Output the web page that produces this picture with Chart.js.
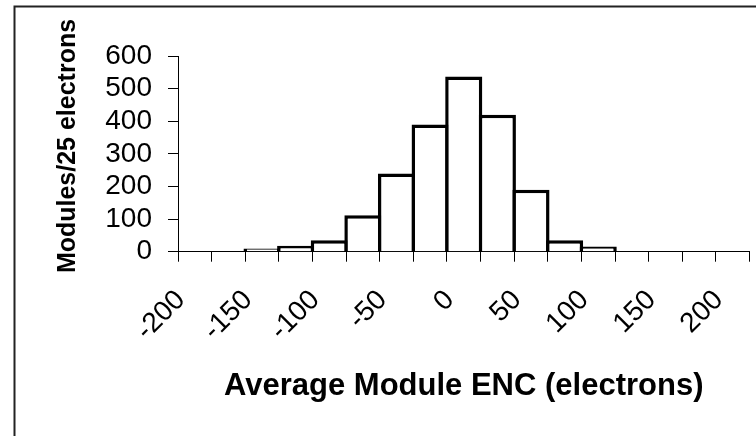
<!DOCTYPE html>
<html lang="en">
<head>
<meta charset="UTF-8">
<title>Average Module ENC</title>
<script src="https://cdn.jsdelivr.net/npm/chart.js"></script>
<style>
  html, body { margin: 0; padding: 0; background: #fff; }
  #wrap { width: 756px; height: 436px; position: relative; }
</style>
</head>
<body>
<div id="wrap"><canvas id="encChart"></canvas></div>
<script>
  // bins are 25 electrons wide, named by their lower edge
  const binEdges = [-200, -175, -150, -125, -100, -75, -50, -25, 0, 25, 50, 75, 100, 125, 150, 175, 200];
  const moduleCounts = [0, 0, 10, 18, 35, 112, 240, 390, 537, 420, 190, 35, 16, 0, 0, 0, 0];
  // only every other bin gets a label
  const xTickLabels = ['-200', '', '-150', '', '-100', '', '-50', '', '0', '', '50', '', '100', '', '150', '', '200'];
  const yMax = 600;
  const yStep = 100;
  const yTitle = 'Modules/25 electrons';

  const FONT = "'Liberation Sans', Arial, sans-serif";
  const OUTLINE = 3.5;

  // white background, the frame round the whole chart and the y title
  const framePlugin = {
    id: 'frame',
    beforeDraw(chart) {
      const ctx = chart.ctx;
      ctx.save();
      ctx.fillStyle = '#fff';
      ctx.fillRect(0, 0, chart.width, chart.height);
      ctx.strokeStyle = '#222';
      ctx.lineWidth = 2;
      ctx.strokeRect(14.5, 6.5, chart.width + 20, chart.height + 20);
      ctx.restore();
    },
    afterDraw(chart) {
      const ctx = chart.ctx;
      ctx.save();
      ctx.translate(68, 146);
      ctx.rotate(-Math.PI / 2);
      ctx.font = 'bold 25px ' + FONT;
      ctx.fillStyle = '#000';
      ctx.textAlign = 'center';
      ctx.textBaseline = 'middle';
      ctx.fillText(yTitle, 0, 0);
      ctx.restore();
    }
  };

  const ctx = document.getElementById('encChart').getContext('2d');
  new Chart(ctx, {
    type: 'bar',
    data: {
      labels: binEdges,
      datasets: [{
        data: moduleCounts,
        backgroundColor: '#fff',
        borderColor: '#000',
        borderWidth: OUTLINE,
        borderSkipped: 'start',
        // slightly wider than the bin so neighbouring outlines share one line
        barPercentage: 1 + OUTLINE / 33.6,
        categoryPercentage: 1
      }]
    },
    options: {
      responsive: true,
      maintainAspectRatio: false,
      animation: false,
      layout: { padding: { top: 56, right: 6.5, left: 0, bottom: 0 } },
      plugins: {
        legend: { display: false },
        tooltip: { enabled: false }
      },
      scales: {
        x: {
          grid: { display: true, drawOnChartArea: false, drawTicks: true, tickLength: 10, color: '#000', offset: true },
          border: { display: true, color: '#000', width: 1 },
          ticks: {
            autoSkip: false,
            minRotation: 45,
            maxRotation: 45,
            labelOffset: -14,
            padding: 22,
            color: '#000',
            font: { family: FONT, size: 28 },
            callback: (val, i) => xTickLabels[i]
          },
          title: {
            display: true,
            text: 'Average Module ENC (electrons)',
            color: '#000',
            font: { family: FONT, size: 31, weight: 'bold' },
            padding: { top: 0, bottom: 31 }
          },
          afterFit: (scale) => {
            scale.height = 184.3;
            // axis runs the full width; rotated labels need no side room
            scale.paddingLeft = 0;
            scale.paddingRight = 0;
          }
        },
        y: {
          min: 0,
          max: yMax,
          grid: { display: true, drawOnChartArea: false, drawTicks: true, tickLength: 10, color: '#000' },
          border: { display: true, color: '#000', width: 1 },
          ticks: {
            stepSize: yStep,
            autoSkip: false,
            padding: 16,
            color: '#000',
            font: { family: FONT, size: 28 }
          },
          afterFit: (scale) => { scale.width = 178; }
        }
      }
    },
    plugins: [framePlugin]
  });
</script>
</body>
</html>
